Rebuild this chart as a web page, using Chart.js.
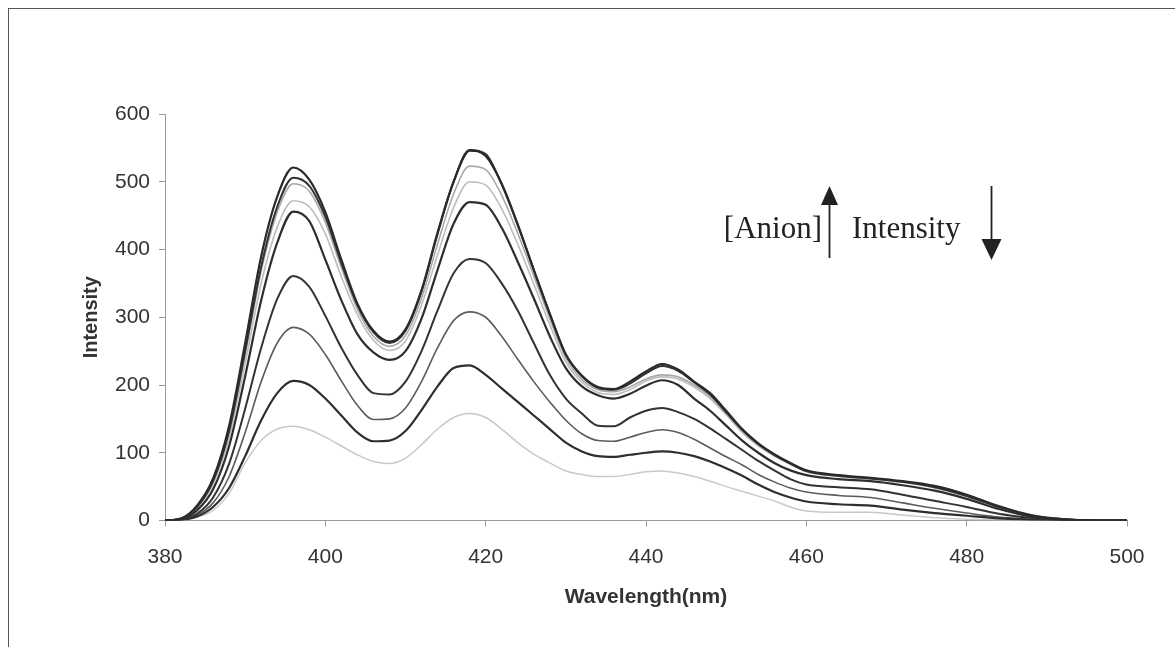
<!DOCTYPE html>
<html>
<head>
<meta charset="utf-8">
<title>Emission spectra</title>
<script src="https://cdn.jsdelivr.net/npm/chart.js@4.4.1/dist/chart.umd.min.js"></script>
<style>
  html, body { margin: 0; padding: 0; background: #fff; }
  #wrap  { position: relative; width: 1175px; height: 647px; overflow: hidden; }
  #frame { position: absolute; left: 8px; top: 8px; width: 1200px; height: 700px;
           border-top: 1px solid #555; border-left: 1px solid #555; }
  #wrap canvas { position: absolute; left: 0; top: 0; }
</style>
</head>
<body>
<div id="wrap">
  <div id="frame"></div>
  <canvas id="spectra" width="1175" height="647"></canvas>
</div>
<script>
/* ── Spectra (intensity vs wavelength, nm) ───────────────────── */
const wavelength = [
  380, 382, 384, 386, 388, 390, 392, 394, 396, 398,
  400, 402, 404, 406, 408, 410, 412, 414, 416, 418,
  420, 422, 424, 426, 428, 430, 432, 434, 436, 438,
  440, 442, 444, 446, 448, 450, 452, 454, 456, 458,
  460, 464, 468, 472, 476, 480, 484, 488, 492, 496,
  500
];

const scan1 = [
  0, 3, 22, 62, 140, 262, 390, 478, 521, 503,
  455, 385, 320, 280, 264, 282, 340, 425, 500, 546,
  538, 497, 437, 370, 305, 245, 214, 197, 194, 205,
  220, 231, 223, 205, 188, 162, 135, 114, 98, 85,
  74, 67, 63, 58, 51, 38, 21, 8, 2, 0,
  0
];
const scan2 = [
  0, 3, 20, 58, 132, 250, 375, 463, 506, 494,
  448, 380, 318, 278, 262, 280, 338, 423, 500, 547,
  541, 496, 436, 370, 305, 245, 213, 196, 193, 202,
  217, 228, 221, 204, 186, 160, 134, 113, 97, 84,
  73, 66, 62, 57, 49, 36, 20, 7, 2, 0,
  0
];
const scan3 = [
  0, 3, 20, 58, 130, 245, 368, 455, 497, 486,
  440, 373, 312, 272, 257, 273, 328, 408, 482, 523,
  518, 480, 424, 361, 298, 240, 208, 193, 190, 197,
  209, 215, 212, 200, 183, 158, 132, 112, 96, 84,
  74, 66, 62, 57, 50, 38, 22, 8, 2, 0,
  0
];
const scan4 = [
  0, 2, 18, 54, 122, 232, 350, 433, 472, 463,
  423, 360, 304, 266, 251, 265, 318, 392, 462, 500,
  495, 460, 408, 349, 289, 234, 204, 189, 186, 193,
  206, 212, 209, 197, 180, 156, 130, 110, 95, 83,
  72, 65, 61, 56, 48, 36, 20, 7, 2, 0,
  0
];
const scan5 = [
  0, 2, 15, 46, 110, 213, 325, 410, 456, 442,
  385, 325, 275, 248, 237, 250, 298, 370, 438, 470,
  466, 432, 382, 328, 272, 225, 198, 185, 180, 187,
  199, 207, 200, 180, 162, 140, 118, 100, 85, 74,
  67, 61, 58, 52, 44, 32, 17, 6, 1, 0,
  0
];
const scan6 = [
  0, 1, 10, 34, 84, 165, 255, 327, 361, 345,
  302, 255, 215, 188, 186, 205, 250, 310, 365, 386,
  380, 350, 310, 262, 215, 180, 158, 140, 139, 152,
  162, 166, 160, 150, 136, 120, 104, 88, 74, 61,
  53, 49, 46, 38, 29, 20, 10, 4, 1, 0,
  0
];
const scan7 = [
  0, 1, 8, 26, 65, 130, 205, 262, 285, 275,
  245, 206, 170, 149, 150, 166, 205, 255, 295, 308,
  300, 272, 238, 205, 175, 148, 128, 118, 117, 123,
  130, 134, 130, 120, 107, 94, 82, 68, 57, 48,
  42, 37, 34, 26, 18, 11, 5, 2, 0, 0,
  0
];
const scan8 = [
  0, 1, 6, 20, 48, 95, 148, 188, 206, 200,
  180, 155, 130, 117, 118, 132, 163, 198, 225, 229,
  215, 195, 175, 155, 135, 115, 102, 95, 94, 97,
  100, 102, 100, 95, 87, 77, 66, 53, 42, 34,
  28, 24, 22, 16, 11, 7, 3, 1, 0, 0,
  0
];
const scan9 = [
  0, 1, 5, 15, 40, 85, 118, 135, 139, 134,
  123, 110, 97, 87, 84, 92, 112, 135, 152, 158,
  152, 135, 115, 98, 85, 73, 68, 65, 65, 68,
  72, 73, 70, 65, 58, 50, 43, 36, 29, 20,
  14, 12, 12, 8, 4, 2, 1, 0, 0, 0,
  0
];

const xTicks = [380, 400, 420, 440, 460, 480, 500];
const yTicks = [0, 100, 200, 300, 400, 500, 600];

/* dark traces drawn on top, pale ones underneath */
const traces = [
  { data: scan1, color: '#2a2a2a', width: 2.2 },
  { data: scan2, color: '#333333', width: 2.0 },
  { data: scan5, color: '#2e2e2e', width: 2.2 },
  { data: scan6, color: '#333333', width: 2.0 },
  { data: scan8, color: '#2e2e2e', width: 2.2 },
  { data: scan7, color: '#5c5c5c', width: 1.6 },
  { data: scan3, color: '#a8a8a8', width: 1.6 },
  { data: scan4, color: '#bdbdbd', width: 1.6 },
  { data: scan9, color: '#c9c9c9', width: 1.5 },
];

const sans = "'Liberation Sans', Arial, sans-serif";

/* ── "[Anion] ↑ Intensity ↓" note ────────────────────────────── */
function arrow(ctx, x, yFrom, yTo, headW, headL) {
  const dir = yTo > yFrom ? 1 : -1;
  ctx.beginPath();
  ctx.moveTo(x, yFrom);
  ctx.lineTo(x, yTo - dir * headL);
  ctx.stroke();
  ctx.beginPath();
  ctx.moveTo(x, yTo);
  ctx.lineTo(x - headW / 2, yTo - dir * headL);
  ctx.lineTo(x + headW / 2, yTo - dir * headL);
  ctx.closePath();
  ctx.fill();
}

const titrationNote = {
  id: 'titrationNote',
  afterDatasetsDraw(chart) {
    const ctx = chart.ctx;
    ctx.save();
    ctx.fillStyle = '#222';
    ctx.strokeStyle = '#222';
    ctx.lineWidth = 1.8;
    ctx.font = "31px 'Liberation Serif', 'Times New Roman', serif";
    ctx.textBaseline = 'alphabetic';
    ctx.textAlign = 'right';
    ctx.fillText('[Anion]', 822, 238);
    ctx.textAlign = 'left';
    ctx.fillText('Intensity', 852, 238);
    arrow(ctx, 829.5, 258, 186, 17, 19);
    arrow(ctx, 991.5, 186, 260, 20, 21);
    ctx.restore();
  }
};

/* ── Chart ────────────────────────────────────────────────────── */
new Chart(document.getElementById('spectra'), {
  type: 'line',
  data: {
    datasets: traces.map(t => ({
      data: wavelength.map((w, i) => ({ x: w, y: t.data[i] })),
      borderColor: t.color,
      borderWidth: t.width,
      pointRadius: 0,
      fill: false,
      cubicInterpolationMode: 'monotone',
    })),
  },
  options: {
    responsive: false,
    animation: false,
    layout: { padding: { left: 79, top: 114, right: 48, bottom: 37.5 } },
    plugins: {
      legend: { display: false },
      tooltip: { enabled: false },
    },
    scales: {
      x: {
        type: 'linear',
        min: 380,
        max: 500,
        afterFit: (scale) => { scale.height = 89; },
        afterBuildTicks: (scale) => { scale.ticks = xTicks.map(v => ({ value: v })); },
        border: { display: true, color: '#9a9a9a', width: 1 },
        grid: { drawOnChartArea: false, drawTicks: true, tickLength: 6, color: '#9a9a9a' },
        ticks: { color: '#333', padding: 18, maxRotation: 0, font: { family: sans, size: 21 } },
        title: {
          display: true,
          text: 'Wavelength(nm)',
          color: '#333',
          padding: 0,
          font: { family: sans, size: 21, weight: 'bold' },
        },
      },
      y: {
        min: 0,
        max: 600,
        afterFit: (scale) => { scale.width = 86; },
        afterBuildTicks: (scale) => { scale.ticks = yTicks.map(v => ({ value: v })); },
        border: { display: true, color: '#9a9a9a', width: 1 },
        grid: { drawOnChartArea: false, drawTicks: true, tickLength: 6, color: '#9a9a9a' },
        ticks: { color: '#333', padding: 9, font: { family: sans, size: 21 } },
        title: {
          display: true,
          text: 'Intensity',
          color: '#333',
          padding: 0,
          font: { family: sans, size: 20, weight: 'bold' },
        },
      },
    },
  },
  plugins: [titrationNote],
});
</script>
</body>
</html>
